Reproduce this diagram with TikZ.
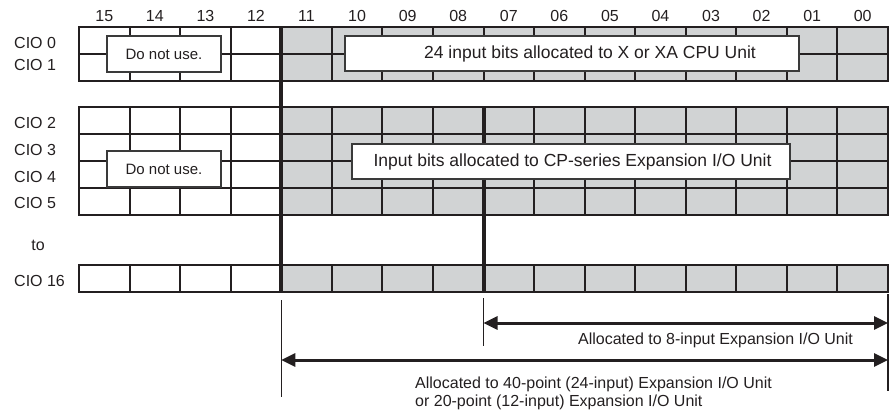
\documentclass[tikz,border=0pt]{standalone}
\usepackage{fontspec}
\setmainfont{Liberation Sans}
\usetikzlibrary{arrows.meta}
\definecolor{cellgray}{HTML}{D1D3D4}
\definecolor{ink}{HTML}{231F20}
\definecolor{boxline}{HTML}{3A3A3A}
\begin{document}
\begin{tikzpicture}[x=1pt,y=-1pt,
  gridline/.style={ink, line width=2pt, line cap=rect},
  heavy/.style={ink, line width=4pt},
  notebox/.style={draw=boxline, line width=1.5pt, fill=white, inner sep=0pt, text=ink},
  lbl/.style={font=\fontsize{16}{17.5}\selectfont, text=ink, inner sep=0pt},
  boxtext/.style={font=\fontsize{17.5}{20}\selectfont, text=ink, inner sep=0pt},
  dimarrow/.style={ink, line width=3pt, {Triangle[length=14pt,width=13pt]}-{Triangle[length=14pt,width=13pt]}},
  extline/.style={ink, line width=1.3pt}]
\useasboundingbox (0,0) rectangle (890,409);
\def\cw{50.5625}
% shaded region (bits 11-00)
\fill[cellgray] (281.25,27) rectangle (888,80.7);
\fill[cellgray] (281.25,107) rectangle (888,215);
\fill[cellgray] (281.25,265) rectangle (888,292);
% grids
\foreach \i in {0,...,16} {
  \draw[gridline] ({79+\i*\cw},27) -- ({79+\i*\cw},80.7);
  \draw[gridline] ({79+\i*\cw},107) -- ({79+\i*\cw},215);
  \draw[gridline] ({79+\i*\cw},265) -- ({79+\i*\cw},292);
}
\foreach \y in {27,53.85,80.7,107,134,161,188,215,265,292}
  \draw[gridline] (79,\y) -- (888,\y);
% heavy boundaries
\draw[heavy] (281.25,27) -- (281.25,292);
\draw[heavy] (483.5,107) -- (483.5,292);
% boxes
\node[notebox, minimum width=114pt, minimum height=36pt, font=\fontsize{15}{17}\selectfont] (dnu1) at (164,54) {Do not use.};
\node[notebox, minimum width=114pt, minimum height=36pt, font=\fontsize{15}{17}\selectfont] (dnu2) at (164,169) {Do not use.};
\node[notebox, minimum width=454pt, minimum height=35pt] (cpu) at (572,53.5) {};
\node[boxtext] (cputext) at (590,54) {24 input bits allocated to X or XA CPU Unit};
\node[notebox, minimum width=438pt, minimum height=35pt] (exp) at (571,161.5) {};
\node[boxtext] (exptext) at (572.5,162) {Input bits allocated to CP-series Expansion I/O Unit};
% header numbers
\foreach \t [count=\j from 0] in {15,14,13,12,11,10,09,08,07,06,05,04,03,02,01,00}
  \node[lbl] (h\t) at ({79+(\j+0.5)*\cw},16) {\t};
% row labels
\node[lbl, anchor=west] (cio0) at (14,43) {CIO 0};
\node[lbl, anchor=west] (cio1) at (14,65) {CIO 1};
\node[lbl, anchor=west] (cio2) at (14,123) {CIO 2};
\node[lbl, anchor=west] (cio3) at (14,150) {CIO 3};
\node[lbl, anchor=west] (cio4) at (14,177) {CIO 4};
\node[lbl, anchor=west] (cio5) at (14,203) {CIO 5};
\node[lbl] (to) at (38,245) {to};
\node[lbl, anchor=west] (cio16) at (14,281) {CIO 16};
% extension lines
\coordinate (e1t) at (281.25,300); \coordinate (e1b) at (281.25,397);
\coordinate (e2t) at (888,294);    \coordinate (e2b) at (888,391);
\coordinate (e3t) at (483.5,298);  \coordinate (e3b) at (483.5,346);
\draw[extline] (e1t) -- (e1b);
\draw[extline] (e2t) -- (e2b);
\draw[extline] (e3t) -- (e3b);
% dimension arrows
\coordinate (a1l) at (483.5,323); \coordinate (a1r) at (888,323);
\coordinate (a2l) at (281.25,360); \coordinate (a2r) at (888,360);
\draw[dimarrow] (a1l) -- (a1r);
\draw[dimarrow] (a2l) -- (a2r);
\node[lbl] (t8) at (715.5,340) {Allocated to 8-input Expansion I/O Unit};
\node[lbl, anchor=north west, align=left] (t40) at (415,377) {Allocated to 40-point (24-input) Expansion I/O Unit\\or 20-point (12-input) Expansion I/O Unit};
\end{tikzpicture}
\end{document}
